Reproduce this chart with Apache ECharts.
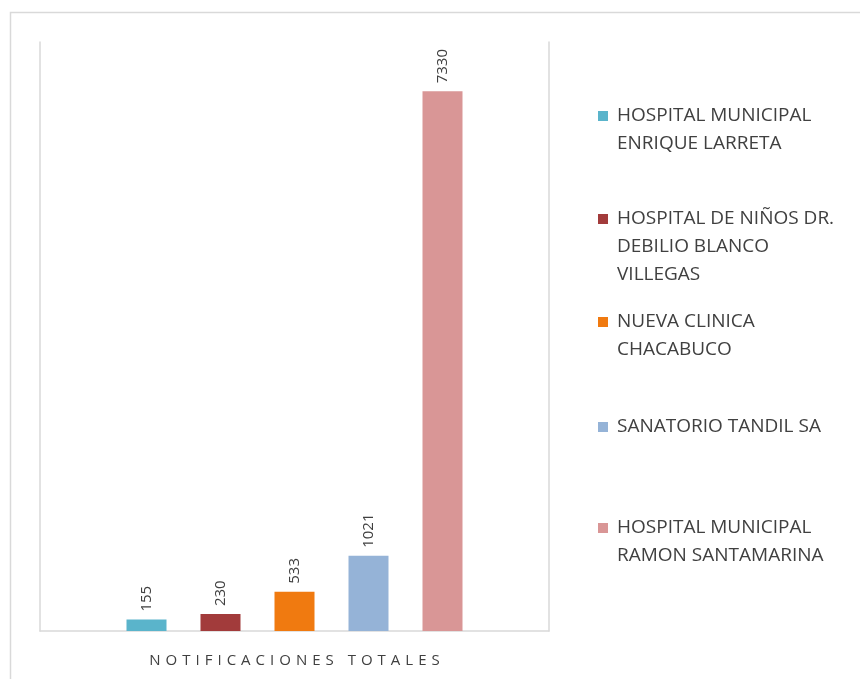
<!DOCTYPE html>
<html>
<head>
<meta charset="utf-8">
<script src="https://cdn.jsdelivr.net/npm/echarts@6/dist/echarts.min.js"></script>
<style>
  html, body { margin: 0; padding: 0; background: #fff; }
  #chart { width: 860px; height: 679px; }
</style>
</head>
<body>
<div id="chart"></div>
<script>
var categories = ['NOTIFICACIONES TOTALES'];
var seriesNames = [
	'HOSPITAL MUNICIPAL\nENRIQUE LARRETA',
	'HOSPITAL DE NIÑOS DR.\nDEBILIO BLANCO\nVILLEGAS',
	'NUEVA CLINICA\nCHACABUCO',
	'SANATORIO TANDIL SA',
	'HOSPITAL MUNICIPAL\nRAMON SANTAMARINA'
];
var values = [155, 230, 533, 1021, 7330];
var colors = ['#5ab4cb', '#a23b3b', '#f07a10', '#95b3d7', '#d99696'];
var legendTops = [97, 200, 303, 408, 509];

var font = '"Open Sans", sans-serif';
var myChart = echarts.init(document.getElementById('chart'));

var series = [];
var legends = [];
for (var i = 0; i < seriesNames.length; i++) {
	series.push({
		name : seriesNames[i],
		type : 'bar',
		barWidth : 40,
		barGap : '85%',
		itemStyle : { color : colors[i] },
		label : {
			show : true,
			position : 'top',
			rotate : 90,
			align : 'left',
			verticalAlign : 'middle',
			distance : 8,
			color : '#404040',
			fontSize : 15,
			fontFamily : font
		},
		data : [ values[i] ]
	});
	// one legend per item so the uneven spacing of the original can be kept
	var h = seriesNames[i].split('\n').length * 28;
	legends.push({
		data : [ seriesNames[i] ],
		orient : 'vertical',
		left : 593,
		top : legendTops[i],
		itemWidth : 14,
		itemHeight : h,
		icon : 'path://M0,0M14,' + h + 'M0,9h10v10h-10z',
		selectedMode : false,
		textStyle : {
			color : '#404040',
			fontSize : 19,
			lineHeight : 28,
			fontFamily : font
		}
	});
}

myChart.setOption({
	animation : false,
	textStyle : { fontFamily : font },
	grid : { left : 40, right : 311, top : 42, bottom : 48 },
	legend : legends,
	graphic : [ {
		type : 'rect',
		shape : { x : 10.5, y : 12.5, width : 900, height : 700 },
		style : { fill : 'none', stroke : '#d9d9d9', lineWidth : 1.5 },
		silent : true
	} ],
	xAxis : {
		type : 'category',
		data : categories,
		axisLine : { lineStyle : { color : '#d9d9d9', width : 1.5 } },
		axisTick : { show : false },
		axisLabel : {
			margin : 22,
			formatter : function (v) {
				return v.split('').map(function (c) { return '{c|' + c + '}'; }).join('');
			},
			rich : {
				c : { fontSize : 15, color : '#404040', padding : [0, 2.5, 0, 2.5], fontFamily : font }
			}
		}
	},
	yAxis : [ {
		type : 'value',
		min : 0,
		max : 8000,
		axisLine : { show : true, lineStyle : { color : '#d9d9d9', width : 1.5 } },
		axisLabel : { show : false },
		axisTick : { show : false },
		splitLine : { show : false }
	}, {
		type : 'value',
		position : 'right',
		min : 0,
		max : 8000,
		axisLine : { show : true, lineStyle : { color : '#d9d9d9', width : 1.5 } },
		axisLabel : { show : false },
		axisTick : { show : false },
		splitLine : { show : false }
	} ],
	series : series
});
</script>
</body>
</html>
